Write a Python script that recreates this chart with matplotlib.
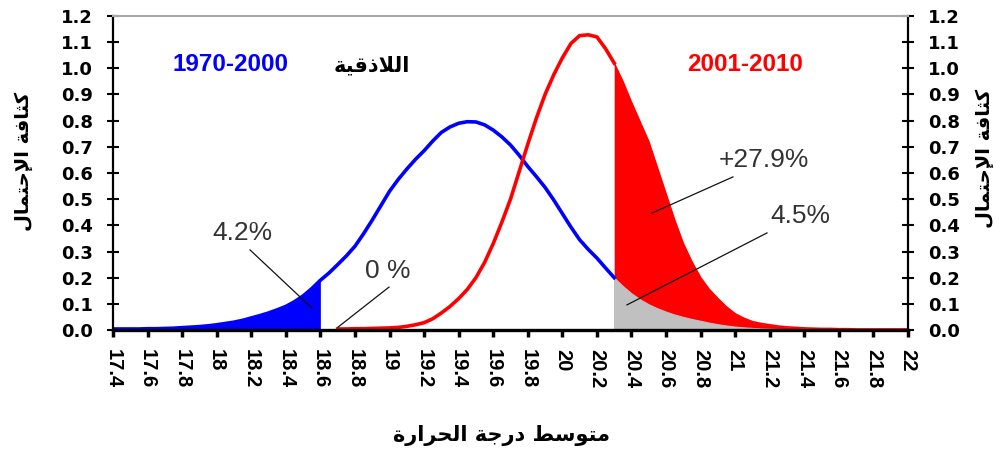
import numpy as np
import matplotlib
matplotlib.use("Agg")
import matplotlib.pyplot as plt

# mean temperature grid (deg C), 0.05 steps from 17.4 to 22.0
temps = np.round(np.linspace(17.4, 22.0, 93), 2)

# probability density, 1970-2000
dens_old = [0.004, 0.004, 0.004, 0.004, 0.005, 0.005, 0.006, 0.007, 0.009, 0.011,
            0.013, 0.016, 0.020, 0.025, 0.030, 0.037, 0.046, 0.055, 0.065, 0.077,
            0.090, 0.108, 0.130, 0.158, 0.190, 0.218, 0.250, 0.283, 0.320, 0.368,
            0.420, 0.475, 0.530, 0.575, 0.615, 0.652, 0.685, 0.722, 0.755, 0.776,
            0.790, 0.796, 0.795, 0.784, 0.764, 0.738, 0.707, 0.668, 0.625, 0.586,
            0.545, 0.497, 0.445, 0.393, 0.345, 0.308, 0.275, 0.237, 0.200, 0.168,
            0.140, 0.117, 0.098, 0.083, 0.070, 0.059, 0.050, 0.042, 0.035, 0.028,
            0.022, 0.017, 0.013, 0.010, 0.008, 0.006, 0.005, 0.004, 0.003, 0.002,
            0.002, 0.001, 0.001, 0.001, 0.001, 0.001, 0.001, 0.001, 0.001, 0.001,
            0.001, 0.001, 0.001]

# probability density, 2001-2010
dens_new = [0.0, 0.0, 0.0, 0.0, 0.0, 0.0, 0.0, 0.0, 0.0, 0.0,
            0.0, 0.0, 0.0, 0.0, 0.0, 0.0, 0.0, 0.0, 0.0, 0.0,
            0.0, 0.0, 0.0, 0.0, 0.0, 0.0, 0.004, 0.004, 0.005, 0.005,
            0.006, 0.007, 0.008, 0.010, 0.014, 0.020, 0.028, 0.043, 0.065, 0.090,
            0.120, 0.155, 0.200, 0.258, 0.330, 0.412, 0.500, 0.605, 0.710, 0.810,
            0.900, 0.975, 1.040, 1.095, 1.125, 1.128, 1.120, 1.075, 1.020, 0.950,
            0.870, 0.795, 0.720, 0.620, 0.520, 0.420, 0.330, 0.260, 0.200, 0.155,
            0.120, 0.088, 0.062, 0.045, 0.032, 0.025, 0.020, 0.015, 0.012, 0.010,
            0.008, 0.007, 0.006, 0.006, 0.005, 0.005, 0.004, 0.004, 0.004, 0.004,
            0.004, 0.004, 0.004]

# thresholds of the shaded tails
cold_limit = 18.6
hot_limit = 20.3

x_ticks = [17.4, 17.6, 17.8, 18, 18.2, 18.4, 18.6, 18.8, 19, 19.2, 19.4, 19.6,
           19.8, 20, 20.2, 20.4, 20.6, 20.8, 21, 21.2, 21.4, 21.6, 21.8, 22]
y_ticks = [0.0, 0.1, 0.2, 0.3, 0.4, 0.5, 0.6, 0.7, 0.8, 0.9, 1.0, 1.1, 1.2]

# Arabic strings in visual (left-to-right) order, presentation forms
city = "\uFE94\uFEF4\uFED7\uFEAB\uFEFC\uFEDF\uFE8D"
y_title = "\uFEDD\uFE8E\uFEE4\uFE98\uFEA3\uFEF9\uFE8D \uFE94\uFED3\uFE8E\uFE9C\uFEDB"
x_title = ("\uFE93\uFEAD\uFE8D\uFEAE\uFEA4\uFEDF\uFE8D \uFE94\uFE9F\uFEAD\uFEA9 "
           "\uFEC2\uFEB3\uFEEE\uFE98\uFEE3")

x = temps
old = np.array(dens_old)
new = np.array(dens_new)

fig = plt.figure(figsize=(10.05, 4.54), dpi=100)
ax = fig.add_axes([0.1124, 0.2731, 0.7911, 0.6917])

cold = x <= cold_limit
hot = x >= hot_limit
ax.fill_between(x[cold], 0, old[cold], color="#0000ff", lw=0, zorder=1)
ax.fill_between(x[hot], 0, new[hot], color="#ff0000", lw=0, zorder=1)
ax.fill_between(x[hot], 0, old[hot], facecolor="#c0c0c0", edgecolor="#c0c0c0",
                lw=0.8, zorder=1.1)

ax.plot(x[x <= hot_limit], old[x <= hot_limit], color="#0000ff", lw=2.6, zorder=2)
rise = (x >= 18.7) & (x <= hot_limit)
ax.plot(x[rise], new[rise], color="#ff0000", lw=2.6, zorder=2)
ax.plot(x[hot], new[hot], color="#ff0000", lw=1.2, zorder=2)

ax.set_xlim(17.4, 22)
ax.set_ylim(0, 1.2)

ax.set_xticks(x_ticks)
ax.set_xticklabels([f"{t:g}" for t in x_ticks], rotation=270,
                   fontfamily="Liberation Sans", fontweight="bold", fontsize=14.5)
ax.set_yticks(y_ticks)
ax.set_yticklabels([f"{t:.1f}" for t in y_ticks],
                   fontfamily="DejaVu Sans", fontweight="bold", fontsize=13)
ax.tick_params(axis="x", direction="out", length=5, width=2.5, pad=9)
ax.tick_params(axis="y", direction="inout", length=9, width=1.5, pad=10,
               left=True, right=True, labelleft=True, labelright=True)

for side in ("left", "right"):
    ax.spines[side].set_linewidth(1.6)
ax.spines["bottom"].set_linewidth(2.4)
ax.spines["top"].set_color("#a8a8a8")
ax.spines["top"].set_linewidth(1.5)

# period and city labels
ax.text(18.08, 1.016, "1970-2000", color="#0000ff", fontsize=17.5,
        fontfamily="Liberation Sans", fontweight="bold", ha="center", va="center")
ax.text(21.057, 1.016, "2001-2010", color="#ff0000", fontsize=17.5,
        fontfamily="Liberation Sans", fontweight="bold", ha="center", va="center")
ax.text(18.898, 1.009, city, color="black", fontsize=15,
        fontfamily="DejaVu Sans", fontweight="bold", ha="center", va="center")

# tail percentages with leader lines
notes = [("4.2%", (18.152, 0.371), (18.193, 0.306), (18.551, 0.084)),
         ("0 %", (18.991, 0.225), (18.997, 0.164), (18.702, 0.011)),
         ("+27.9%", (21.167, 0.650), (20.987, 0.585), (20.519, 0.447)),
         ("4.5%", (21.375, 0.436), (21.184, 0.371), (20.374, 0.096))]
for label, pos, start, end in notes:
    ax.text(pos[0], pos[1], label, color="#333333", fontsize=19,
            fontfamily="Liberation Sans", ha="center", va="center", zorder=4)
    ax.plot([start[0], end[0]], [start[1], end[1]], color="#111111", lw=0.9, zorder=4)

fig.text(0.0229, 0.6454, y_title, rotation=90, fontsize=14, fontfamily="DejaVu Sans",
         fontweight="bold", ha="center", va="center")
fig.text(0.980, 0.652, y_title, rotation=90, fontsize=14, fontfamily="DejaVu Sans",
         fontweight="bold", ha="center", va="center")
fig.text(0.4995, 0.040, x_title, fontsize=15, fontfamily="DejaVu Sans",
         fontweight="bold", ha="center", va="center")

fig.savefig("out.png", dpi=100)
